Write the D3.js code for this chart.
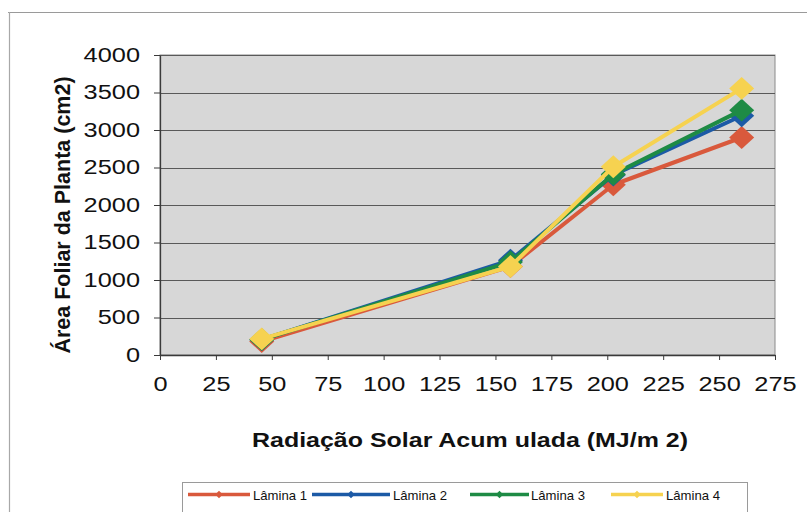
<!DOCTYPE html>
<html>
<head>
<meta charset="utf-8">
<script src="https://cdn.jsdelivr.net/npm/d3@7"></script>
<style>
  html, body { margin: 0; padding: 0; background: #fff; }
  svg { display: block; }
  text { font-family: "Liberation Sans", Arial, sans-serif; fill: #111; }
</style>
</head>
<body>
<svg id="chart" width="807" height="512"></svg>
<script>
// Radiação solar acumulada (MJ/m2) at each sampling date
const radiacao = [45.5, 156.7, 202.7, 260.1];

// Área foliar da planta (cm2) for each irrigation depth
const lamina1 = [180, 1180, 2270, 2900];
const lamina2 = [205, 1265, 2400, 3190];
const lamina3 = [205, 1240, 2410, 3265];
const lamina4 = [215, 1180, 2510, 3555];

const seriesNames = ["Lâmina 1", "Lâmina 2", "Lâmina 3", "Lâmina 4"];
const seriesColors = ["#d9593c", "#1c5aa6", "#1e8b45", "#f6d250"];

const xTicks = [0, 25, 50, 75, 100, 125, 150, 175, 200, 225, 250, 275];
const yTicks = [0, 500, 1000, 1500, 2000, 2500, 3000, 3500, 4000];

const xTitle = "Radiação Solar Acum ulada (MJ/m 2)";
const yTitle = "Área Foliar da Planta (cm2)";

const seriesValues = [lamina1, lamina2, lamina3, lamina4];
const series = seriesNames.map((name, i) => ({
  name,
  color: seriesColors[i],
  points: radiacao.map((x, j) => ({ x, y: seriesValues[i][j] }))
}));

const svg = d3.select("#chart");
const plot = { left: 160, right: 775, top: 55, bottom: 355 };
const hStretch = 1.3; // wide lettering of the horizontal labels

const x = d3.scaleLinear().domain([0, 275]).range([plot.left, plot.right]);
const y = d3.scaleLinear().domain([0, 4000]).range([plot.bottom, plot.top]);

// outer frame (top and left edges)
svg.append("line").attr("x1", 8).attr("x2", 807).attr("y1", 12.5).attr("y2", 12.5)
  .attr("stroke", "#9a9a9a").attr("stroke-width", 1.2);
svg.append("line").attr("x1", 9.5).attr("x2", 9.5).attr("y1", 12).attr("y2", 512)
  .attr("stroke", "#a8a8a8").attr("stroke-width", 1.2);

// plot area background
svg.append("rect")
  .attr("x", plot.left).attr("y", plot.top)
  .attr("width", plot.right - plot.left).attr("height", plot.bottom - plot.top)
  .attr("fill", "#d7d7d7").attr("stroke", "#8a8a8a").attr("stroke-width", 1);

// horizontal gridlines
svg.append("g").selectAll("line").data(yTicks.filter(d => d > 0)).join("line")
  .attr("x1", plot.left).attr("x2", plot.right)
  .attr("y1", d => Math.round(y(d)) + 0.5).attr("y2", d => Math.round(y(d)) + 0.5)
  .attr("stroke", "#595959").attr("stroke-width", 1.1);

// axes
const fmt = d3.format("d");
const xAxis = d3.axisBottom(x).tickValues(xTicks).tickFormat(fmt)
  .tickSize(5).tickSizeOuter(0).tickPadding(17);
const yAxis = d3.axisLeft(y).tickValues(yTicks).tickFormat(fmt)
  .tickSize(6).tickSizeOuter(0).tickPadding(14);

const gx = svg.append("g").attr("transform", `translate(0,${plot.bottom})`).call(xAxis);
const gy = svg.append("g").attr("transform", `translate(${plot.left},0)`).call(yAxis);

[gx, gy].forEach(g => {
  g.select(".domain").attr("stroke", "#3a3a3a").attr("stroke-width", 1.3);
  g.selectAll(".tick line").attr("stroke", "#3a3a3a").attr("stroke-width", 1);
  g.selectAll(".tick text")
    .attr("font-size", 19.5)
    .attr("font-family", "Liberation Sans, Arial, sans-serif")
    .attr("fill", "#111");
});

// widen horizontal label lettering
function stretch(sel, factor) {
  sel.each(function () {
    const w = this.getComputedTextLength();
    d3.select(this).attr("textLength", w * factor).attr("lengthAdjust", "spacingAndGlyphs");
  });
}
stretch(gx.selectAll(".tick text"), hStretch);
stretch(gy.selectAll(".tick text"), hStretch);

// series lines with diamond markers
const line = d3.line().x(d => x(d.x)).y(d => y(d.y));
const diamond = d3.symbol().type(d3.symbolDiamond2).size(330);

series.forEach(s => {
  const g = svg.append("g");
  g.append("path")
    .datum(s.points)
    .attr("d", line)
    .attr("fill", "none")
    .attr("stroke", s.color)
    .attr("stroke-width", 4)
    .attr("stroke-linejoin", "round");
  g.selectAll("path.m").data(s.points).join("path")
    .attr("class", "m")
    .attr("d", diamond)
    .attr("transform", d => `translate(${x(d.x)},${y(d.y)}) scale(1.1,1)`)
    .attr("fill", s.color);
});

// axis titles
const xt = svg.append("text")
  .attr("x", 470).attr("y", 447)
  .attr("text-anchor", "middle")
  .attr("font-size", 19.5).attr("font-weight", "bold")
  .text(xTitle);
stretch(xt, 1.28);

svg.append("text")
  .attr("transform", `translate(70,215) rotate(-90)`)
  .attr("text-anchor", "middle")
  .attr("font-size", 21.5).attr("font-weight", "bold")
  .text(yTitle);

// legend
svg.append("rect")
  .attr("x", 182.5).attr("y", 482.5).attr("width", 565).attr("height", 40)
  .attr("fill", "#fff").attr("stroke", "#9a9a9a").attr("stroke-width", 1);

const legendItems = [
  { x0: 188, x1: 250, tx: 253 },
  { x0: 312, x1: 390, tx: 393 },
  { x0: 470, x1: 529, tx: 531 },
  { x0: 611, x1: 663, tx: 666 }
];
const legendDiamond = d3.symbol().type(d3.symbolDiamond2).size(36);
const legendY = 494.5;
series.forEach((s, i) => {
  const it = legendItems[i];
  const g = svg.append("g");
  g.append("line")
    .attr("x1", it.x0).attr("x2", it.x1).attr("y1", legendY).attr("y2", legendY)
    .attr("stroke", s.color).attr("stroke-width", 3.5);
  g.append("path")
    .attr("d", legendDiamond)
    .attr("transform", `translate(${(it.x0 + it.x1) / 2},${legendY})`)
    .attr("fill", s.color);
  g.append("text")
    .attr("x", it.tx).attr("y", legendY + 5)
    .attr("font-size", 13)
    .attr("textLength", 54).attr("lengthAdjust", "spacingAndGlyphs")
    .text(s.name);
});
</script>
</body>
</html>
